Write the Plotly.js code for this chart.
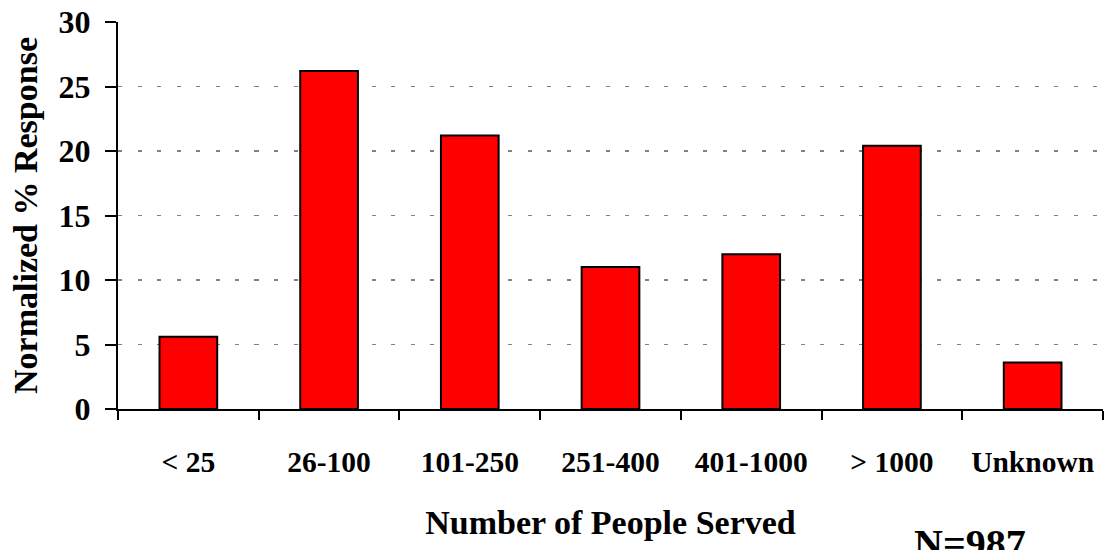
<!DOCTYPE html>
<html>
<head>
<meta charset="utf-8">
<script src="https://cdn.plot.ly/plotly-3.0.1.min.js"></script>
<style>
  html, body { margin: 0; padding: 0; background: #ffffff; }
  #chart { width: 1107px; height: 550px; }
</style>
</head>
<body>
<div id="chart"></div>
<script>
// Size of the community served, grouped into bands
const categories = ['< 25', '26-100', '101-250', '251-400', '401-1000', '> 1000', 'Unknown'];
// Normalized share of responses per band (%)
const responsePct = [5.6, 26.2, 21.2, 11.0, 12.0, 20.4, 3.6];
const yTicks = [0, 5, 10, 15, 20, 25, 30];
const sampleNote = 'N=987';

const serif = '"Liberation Serif", "Times New Roman", Times, serif';

const trace = {
  type: 'bar',
  x: categories,
  y: responsePct,
  marker: { color: '#ff0000', line: { color: '#000000', width: 2 } },
  hoverinfo: 'x+y'
};

const layout = {
  width: 1107,
  height: 550,
  margin: { l: 118, r: 4, t: 22, b: 141, pad: 0 },
  paper_bgcolor: '#ffffff',
  plot_bgcolor: '#ffffff',
  showlegend: false,
  bargap: 0.59,
  font: { family: serif, color: '#000000', weight: 'bold' },
  xaxis: {
    type: 'category',
    showline: true,
    linecolor: '#000000',
    linewidth: 2,
    showgrid: false,
    zeroline: false,
    ticks: 'outside',
    tickson: 'boundaries',
    ticklen: 9,
    tickwidth: 2,
    tickcolor: '#000000',
    ticklabelstandoff: 26,
    tickfont: { family: serif, size: 29.5, color: '#000000', weight: 'bold' },
    title: {
      text: 'Number of People Served',
      font: { family: serif, size: 34, color: '#000000', weight: 'bold' },
      standoff: 33
    }
  },
  yaxis: {
    range: [0, 30],
    tickvals: yTicks,
    ticktext: yTicks.map(String),
    showline: true,
    linecolor: '#000000',
    linewidth: 2,
    zeroline: false,
    showgrid: true,
    gridcolor: '#808080',
    gridwidth: 1.5,
    griddash: '4px,15.5px',
    ticks: 'outside',
    ticklen: 11,
    tickwidth: 2,
    tickcolor: '#000000',
    ticklabelstandoff: 8,
    tickfont: { family: serif, size: 32, color: '#000000', weight: 'bold' },
    title: {
      text: 'Normalized % Response',
      font: { family: serif, size: 34, color: '#000000', weight: 'bold' },
      standoff: 11
    }
  },
  annotations: [{
    text: sampleNote,
    xref: 'paper', yref: 'paper',
    x: (970 - 118) / (1107 - 118 - 4),
    y: -0.284,
    xanchor: 'center', yanchor: 'top',
    showarrow: false,
    font: { family: serif, size: 40, color: '#000000', weight: 'bold' }
  }]
};

Plotly.newPlot('chart', [trace], layout, { displayModeBar: false, staticPlot: true });
</script>
</body>
</html>
